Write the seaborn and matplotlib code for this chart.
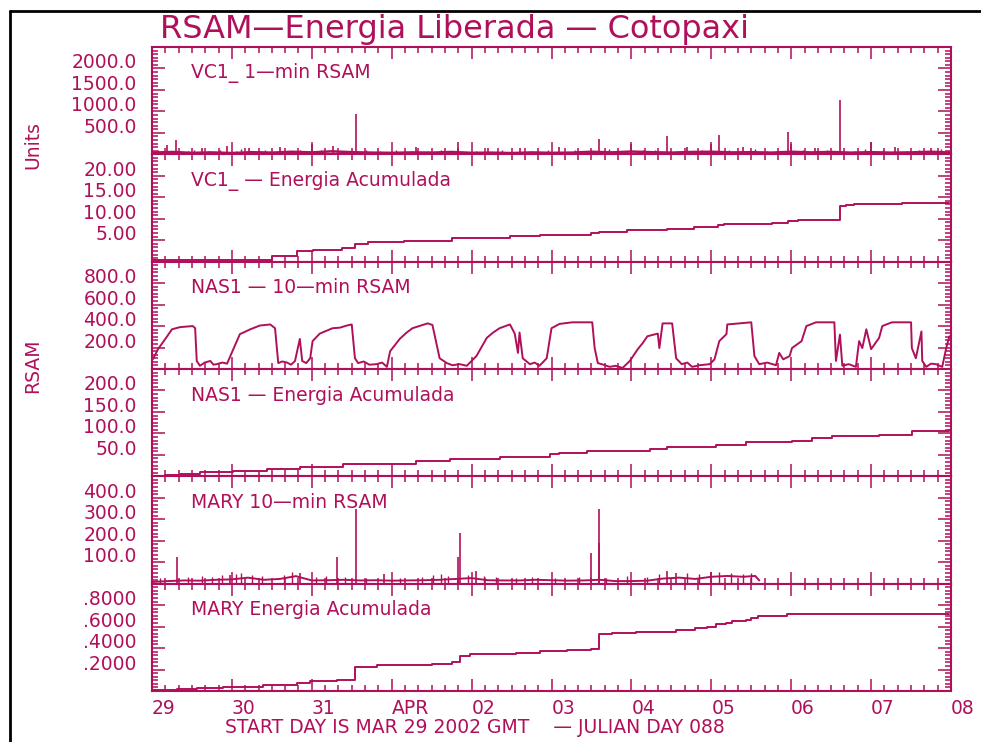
import numpy as np
import pandas as pd
import matplotlib
matplotlib.use("Agg")
import matplotlib.pyplot as plt
from matplotlib.ticker import FixedLocator, MultipleLocator, AutoMinorLocator
from matplotlib.lines import Line2D
import seaborn as sns

sns.set_style("white")
plt.rcParams['font.family'] = ['DejaVu Sans']

COLOR = '#B0105A'

# ---------------- data (time in days since 29 Mar 2002 00:00 GMT) ----------------
day_labels = ["29", "30", "31", "APR", "02", "03", "04", "05", "06", "07", "08"]

# VC1_ 1-min RSAM: background level
vc1_rsam_t = [0.00, 0.25, 0.50, 0.75, 1.00, 1.25, 1.50, 1.75, 2.00, 2.25, 2.50, 2.75, 3.00, 3.25,
              3.50, 3.75, 4.00, 4.25, 4.50, 4.75, 5.00, 5.25, 5.50, 5.75, 6.00, 6.25, 6.50, 6.75,
              7.00, 7.25, 7.50, 7.75, 8.00, 8.25, 8.50, 8.75, 9.00, 9.25, 9.50, 9.75, 10.0]
vc1_rsam_v = [40, 55, 35, 45, 30, 50, 40, 60, 45, 70, 50, 40, 35, 45,
              40, 55, 35, 40, 30, 45, 35, 40, 60, 45, 65, 50, 40, 55,
              60, 45, 50, 40, 60, 45, 55, 40, 50, 40, 45, 60, 40]
# VC1_ 1-min RSAM: spikes
vc1_spike_t = [0.19, 0.30, 0.62, 0.94, 1.22, 1.60, 2.00, 2.26, 2.55, 3.30, 3.83, 4.20, 4.60, 5.10,
               5.59, 6.00, 6.44, 6.70, 7.00, 7.10, 7.40, 7.96, 8.00, 8.30, 8.61, 9.00, 9.30, 9.75]
vc1_spike_v = [210, 330, 150, 190, 140, 170, 250, 200, 930, 160, 290, 150, 140, 170,
               360, 230, 430, 180, 250, 450, 160, 520, 230, 150, 1260, 290, 170, 150]
# VC1_ 1-min RSAM: small bursts
vc1_small_t = [0.08, 0.45, 0.52, 0.70, 0.85, 1.05, 1.12, 1.35, 1.42, 1.70, 1.85, 2.12, 2.40, 2.68,
               2.85, 3.05, 3.45, 3.62, 4.05, 4.38, 4.82, 4.95, 5.30, 5.45, 5.72, 5.86, 6.15, 6.30,
               6.58, 6.88, 7.22, 7.55, 7.70, 7.85, 8.15, 8.45, 8.80, 8.92, 9.15, 9.45, 9.60, 9.88]
vc1_small_v = [90, 80, 110, 70, 95, 80, 120, 75, 100, 85, 110, 90, 80, 105,
               70, 95, 85, 110, 75, 90, 80, 100, 110, 75, 120, 85, 95, 110,
               80, 100, 90, 120, 85, 75, 110, 90, 80, 115, 95, 85, 100, 120]

# VC1_ cumulative energy
vc1_en_t = [0.00, 0.26, 1.50, 1.81, 2.01, 2.38, 2.54, 2.70, 3.16, 3.76, 3.94, 4.48, 4.85, 5.20,
            5.50, 5.59, 5.94, 6.44, 6.78, 7.08, 7.16, 7.76, 7.96, 8.09, 8.61, 8.69, 8.79, 9.39, 9.98]
vc1_en_v = [0.35, 0.5, 1.4, 2.5, 2.8, 3.1, 4.1, 4.6, 4.9, 5.4, 5.6, 5.9, 6.1, 6.3,
            6.7, 6.9, 7.3, 7.7, 8.1, 8.5, 8.8, 9.1, 9.4, 9.8, 13.0, 13.3, 13.4, 13.7, 13.7]

# NAS1 10-min RSAM
nas_t = [0.013, 0.075, 0.19, 0.25, 0.35, 0.51, 0.54, 0.56, 0.60, 0.66, 0.73, 0.77, 0.81, 0.88,
         0.94, 0.98, 1.10, 1.16, 1.23, 1.30, 1.35, 1.48, 1.54, 1.58, 1.63, 1.69, 1.74, 1.79,
         1.85, 1.88, 1.93, 1.98, 2.01, 2.10, 2.26, 2.35, 2.44, 2.50, 2.54, 2.58, 2.65, 2.72,
         2.81, 2.88, 2.94, 2.98, 3.10, 3.18, 3.26, 3.45, 3.51, 3.60, 3.69, 3.76, 3.85, 3.94,
         4.06, 4.19, 4.27, 4.35, 4.48, 4.54, 4.58, 4.60, 4.64, 4.73, 4.79, 4.85, 4.94, 5.00,
         5.10, 5.26, 5.51, 5.54, 5.58, 5.65, 5.73, 5.80, 5.89, 5.98, 6.08, 6.14, 6.20, 6.33,
         6.35, 6.39, 6.51, 6.56, 6.63, 6.70, 6.76, 6.85, 6.98, 7.04, 7.10, 7.19, 7.20, 7.50,
         7.54, 7.60, 7.70, 7.81, 7.85, 7.90, 7.98, 8.01, 8.13, 8.19, 8.31, 8.54, 8.56, 8.61,
         8.64, 8.72, 8.81, 8.85, 8.89, 8.94, 9.00, 9.10, 9.14, 9.26, 9.50, 9.51, 9.56, 9.63,
         9.64, 9.69, 9.75, 9.81, 9.89, 9.94, 9.98]
nas_v = [93, 185, 305, 370, 390, 400, 380, 75, 30, 60, 75, 40, 45, 60,
         50, 120, 325, 345, 370, 390, 405, 415, 380, 55, 70, 60, 40, 75,
         280, 75, 55, 100, 260, 330, 380, 385, 405, 415, 100, 55, 70, 40,
         45, 60, 20, 165, 280, 335, 380, 425, 410, 100, 55, 35, 45, 30,
         120, 290, 340, 380, 415, 330, 150, 340, 100, 45, 60, 30, 100, 380,
         420, 435, 435, 195, 55, 40, 20, 30, 10, 75, 185, 240, 305, 330,
         195, 425, 425, 100, 45, 60, 20, 35, 45, 90, 260, 325, 415, 435,
         120, 45, 60, 35, 150, 90, 120, 195, 260, 400, 435, 435, 75, 320,
         30, 45, 20, 260, 195, 370, 185, 290, 400, 435, 435, 195, 100, 350,
         75, 20, 50, 45, 20, 195, 305]

# NAS1 cumulative energy
nas_en_t = [0.00, 0.16, 0.35, 0.60, 1.01, 1.44, 1.85, 2.39, 3.01, 3.31, 3.73, 4.35, 4.98, 5.10,
            5.44, 6.23, 6.44, 7.06, 7.44, 8.01, 8.26, 8.51, 9.10, 9.51, 9.98]
nas_en_v = [1, 2, 6, 9, 12, 18, 21, 28, 29, 35, 41, 45, 52, 54,
            60, 63, 69, 73, 79, 83, 89, 95, 97, 106, 109]

# MARY 10-min RSAM: background level (data end ~ 5 Apr 14h)
mary_t = [0.0, 0.2, 0.4, 0.6, 0.8, 1.0, 1.2, 1.4, 1.6, 1.8, 2.0, 2.2, 2.4, 2.6, 2.8, 3.0,
          3.2, 3.4, 3.6, 3.8, 4.0, 4.2, 4.4, 4.6, 4.8, 5.0, 5.2, 5.4, 5.6, 5.8, 6.0, 6.2,
          6.4, 6.6, 6.8, 7.0, 7.2, 7.4, 7.55, 7.6]
mary_v = [8, 12, 15, 14, 18, 20, 28, 18, 22, 35, 15, 16, 18, 15, 16, 14,
          15, 16, 18, 22, 26, 16, 15, 15, 18, 16, 14, 15, 18, 12, 12, 14,
          24, 28, 22, 32, 36, 32, 36, 15]
mary_spike_t = [0.31, 0.98, 1.85, 2.31, 2.55, 2.90, 3.83, 3.85, 4.06, 5.50, 5.59, 5.60, 6.44, 6.56, 7.00]
mary_spike_v = [126, 40, 51, 126, 350, 45, 126, 238, 60, 145, 350, 190, 60, 51, 55]
mary_small_t = [0.10, 0.45, 0.62, 0.75, 0.88, 1.05, 1.12, 1.25, 1.38, 1.65, 1.75, 2.05, 2.18, 2.42,
                2.68, 3.10, 3.38, 3.52, 3.62, 3.70, 3.95, 4.15, 4.30, 4.55, 4.75, 5.05, 5.35, 5.68,
                5.95, 6.20, 6.35, 6.70, 6.85, 7.10, 7.25, 7.40, 7.50]
mary_small_v = [25, 30, 35, 30, 40, 45, 50, 40, 35, 40, 55, 30, 35, 30,
                25, 25, 30, 40, 45, 35, 40, 35, 30, 25, 30, 25, 30, 25,
                35, 30, 45, 50, 45, 55, 50, 45, 50]

# MARY cumulative energy
mary_en_t = [0.01, 0.31, 0.56, 0.89, 1.39, 1.81, 1.98, 2.31, 2.54, 2.81, 3.51, 3.76, 3.85, 3.98,
             4.56, 4.85, 5.20, 5.50, 5.59, 5.76, 6.06, 6.56, 6.79, 6.94, 7.06, 7.19, 7.26, 7.44,
             7.50, 7.58, 7.95, 9.98]
mary_en_v = [0.005, 0.016, 0.025, 0.04, 0.056, 0.071, 0.093, 0.10, 0.225, 0.24, 0.256, 0.27, 0.324, 0.343,
             0.355, 0.37, 0.385, 0.395, 0.534, 0.54, 0.553, 0.571, 0.586, 0.60, 0.62, 0.632, 0.648, 0.664,
             0.68, 0.70, 0.713, 0.713]

panel_titles = ["VC1_ 1—min RSAM", "VC1_ — Energia Acumulada", "NAS1 — 10—min RSAM",
                "NAS1 — Energia Acumulada", "MARY 10—min RSAM", "MARY Energia Acumulada"]
ylims = [(0, 2500), (0, 25), (0, 1000), (0, 250), (0, 500), (0, 1.0)]
ytick_vals = [[500, 1000, 1500, 2000], [5, 10, 15, 20], [200, 400, 600, 800],
              [50, 100, 150, 200], [100, 200, 300, 400], [0.2, 0.4, 0.6, 0.8]]
ytick_labels = [["500.0", "1000.0", "1500.0", "2000.0"], ["5.00", "10.00", "15.00", "20.00"],
                ["200.0", "400.0", "600.0", "800.0"], ["50.0", "100.0", "150.0", "200.0"],
                ["100.0", "200.0", "300.0", "400.0"], [".2000", ".4000", ".6000", ".8000"]]

# ---------------- figure ----------------
fig, axes = plt.subplots(6, 1, figsize=(9.81, 7.42), dpi=100, sharex=True,
                         gridspec_kw=dict(hspace=0))
fig.subplots_adjust(left=152/981, right=951/981, top=1-47/742, bottom=1-691/742)

FS = 13.5
series = [
    (vc1_rsam_t, vc1_rsam_v, None, 1.8),
    (vc1_en_t, vc1_en_v, 'steps-post', 1.4),
    (nas_t, nas_v, None, 1.4),
    (nas_en_t, nas_en_v, 'steps-post', 1.4),
    (mary_t, mary_v, None, 1.4),
    (mary_en_t, mary_en_v, 'steps-post', 1.4),
]

for i, ax in enumerate(axes):
    t, v, ds, lw = series[i]
    df = pd.DataFrame({'t': t, 'v': v})
    kw = {}
    if ds:
        kw['drawstyle'] = ds
    sns.lineplot(data=df, x='t', y='v', ax=ax, color=COLOR,
                 linewidth=lw, estimator=None, sort=True, **kw)
    if i == 0:
        ax.vlines(vc1_spike_t, 0, vc1_spike_v, color=COLOR, linewidth=1.2)
        ax.vlines(vc1_small_t, 0, vc1_small_v, color=COLOR, linewidth=1.0)
    if i == 4:
        ax.vlines(mary_spike_t, 0, mary_spike_v, color=COLOR, linewidth=1.2)
        ax.vlines(mary_small_t, 0, mary_small_v, color=COLOR, linewidth=1.0)

    ax.set_xlim(0, 10)
    ax.set_ylim(*ylims[i])
    ax.set_xlabel('')
    ax.set_ylabel('')
    ax.set_facecolor('white')
    for s in ax.spines.values():
        s.set_color(COLOR)
        s.set_linewidth(1.5)
        s.set_visible(True)

    ax.xaxis.set_major_locator(FixedLocator(list(range(11))))
    ax.xaxis.set_minor_locator(MultipleLocator(1/6))
    ax.yaxis.set_major_locator(FixedLocator(ytick_vals[i]))
    ax.yaxis.set_minor_locator(AutoMinorLocator(6))
    ax.set_yticklabels(ytick_labels[i])
    for lab in ax.get_yticklabels():
        lab.set_verticalalignment('baseline')

    ax.tick_params(axis='both', which='both', direction='in', colors=COLOR,
                   top=True, bottom=True, left=True, right=True, width=1.1)
    ax.tick_params(axis='x', which='major', length=8.6)
    ax.tick_params(axis='x', which='minor', length=4.6)
    ax.tick_params(axis='y', which='major', length=9.4, pad=11, labelsize=FS, labelcolor=COLOR)
    ax.tick_params(axis='y', which='minor', length=4.6)

    ax.text(39/800, 0.755, panel_titles[i], transform=ax.transAxes, fontsize=FS,
            color=COLOR, ha='left', va='center')

axes[-1].set_xticklabels(day_labels)
axes[-1].tick_params(axis='x', which='major', pad=6, labelsize=FS, labelcolor=COLOR)
for lab in axes[-1].get_xticklabels():
    lab.set_horizontalalignment('left')

# titles and labels
fig.text(160/981, 1-38/742, "RSAM—Energia Liberada — Cotopaxi", fontsize=23,
         color=COLOR, ha='left', va='baseline')
fig.text(475/981, 1-733/742, "START DAY IS MAR 29 2002 GMT    — JULIAN DAY 088",
         fontsize=FS, color=COLOR, ha='center', va='baseline')
fig.text(33/981, 1-145/742, "Units", fontsize=FS, color=COLOR, rotation=90,
         ha='center', va='center')
fig.text(33/981, 1-366/742, "RSAM", fontsize=FS, color=COLOR, rotation=90,
         ha='center', va='center')

# outer black frame (top and left edges)
fig.add_artist(Line2D([10/981, 1.0], [1-11/742, 1-11/742], transform=fig.transFigure,
                      color='black', linewidth=2))
fig.add_artist(Line2D([10/981, 10/981], [0, 1-11/742], transform=fig.transFigure,
                      color='black', linewidth=2))

fig.savefig('out.png', dpi=100, facecolor='white')
